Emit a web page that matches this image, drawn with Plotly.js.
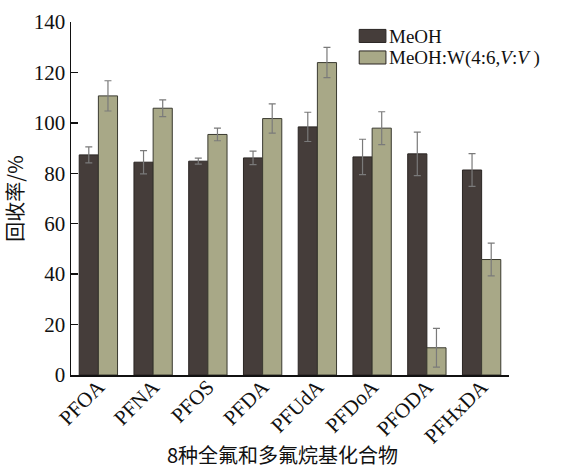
<!DOCTYPE html>
<html><head><meta charset="utf-8">
<script src="https://cdn.plot.ly/plotly-3.0.1.min.js"></script>
<style>body{margin:0;background:#fff}#chart{width:563px;height:469px}</style>
</head><body><div id="chart"></div>
<script>
const categories = ["PFOA","PFNA","PFOS","PFDA","PFUdA","PFDoA","PFODA","PFHxDA"];
const meohValues = [87.3, 84.4, 84.8, 86.1, 98.4, 86.5, 87.7, 81.3];
const meohErrors = [3.2, 4.6, 1.2, 2.7, 5.8, 7.0, 8.6, 6.5];
const mixValues = [110.7, 105.8, 95.4, 101.7, 123.9, 97.9, 10.8, 45.8];
const mixErrors = [6.0, 3.3, 2.5, 5.8, 6.0, 6.5, 7.7, 6.5];
const yTicks = [0, 20, 40, 60, 80, 100, 120, 140];
const seriesNames = ['MeOH', 'MeOH:W(4:6,<i>V</i>:<i>V</i> )'];
const seriesColors = ['#453d3a', '#a8a887'];
const xTitle = '8种全氟和多氟烷基化合物';

const serif = "Liberation Serif, Times New Roman, serif";
const cjk = "Noto Sans CJK SC, serif";

const errStyle = {type:'data', visible:true, color:'#7a7a7a', thickness:1.2, width:3.5};
const traces = [
  {type:'bar', name:seriesNames[0], x:categories, y:meohValues,
   error_y:Object.assign({array:meohErrors}, errStyle),
   marker:{color:seriesColors[0], line:{color:'#2a2523', width:1}}},
  {type:'bar', name:seriesNames[1], x:categories, y:mixValues,
   error_y:Object.assign({array:mixErrors}, errStyle),
   marker:{color:seriesColors[1], line:{color:'#3a3a30', width:1}}}
];

// manual legend (swatches + labels) in paper coordinates
const legX0 = 0.658, legX1 = 0.719, legTextX = 0.722;
const legRows = [{top:0.979, bot:0.942, mid:0.9585}, {top:0.918, bot:0.881, mid:0.8985}];
const shapes = legRows.map((r, i) => ({type:'rect', xref:'paper', yref:'paper',
  x0:legX0, x1:legX1, y0:r.bot, y1:r.top, fillcolor:seriesColors[i], line:{color:'#2a2523', width:1}}));
const annotations = legRows.map((r, i) => ({xref:'paper', yref:'paper', x:legTextX, y:r.mid,
  xanchor:'left', yanchor:'middle', showarrow:false, text:seriesNames[i],
  font:{family:serif, size:19, color:'#111'}}));
annotations.push({xref:'paper', yref:'paper', x:0.484, y:-0.226, xanchor:'center', yanchor:'middle',
  showarrow:false, text:xTitle, font:{family:cjk, size:20, color:'#111'}});

const layout = {
  width:563, height:469,
  margin:{l:71, r:54, t:22, b:94},
  paper_bgcolor:'#fff', plot_bgcolor:'#fff',
  barmode:'group', bargap:0.3, bargroupgap:0,
  showlegend:false, shapes:shapes, annotations:annotations,
  xaxis:{type:'category', range:[-0.5,7.5], showline:true, linecolor:'#111', linewidth:1.5,
         ticks:'', tickangle:-45, tickfont:{family:serif, size:21, color:'#111'},
         ticklabelstandoff:-10, automargin:false,
         showgrid:false, zeroline:false},
  yaxis:{range:[0,140], tickvals:yTicks, showline:true, linecolor:'#111', linewidth:1.5,
         ticks:'inside', ticklen:7, tickwidth:1.5, tickcolor:'#111', automargin:false,
         tickfont:{family:serif, size:21, color:'#111'}, showgrid:false, zeroline:false,
         title:{text:'回收率/%', font:{family:cjk, size:20, color:'#111'}, standoff:10}}
};
Plotly.newPlot('chart', traces, layout, {displayModeBar:false, staticPlot:true});
</script></body></html>
